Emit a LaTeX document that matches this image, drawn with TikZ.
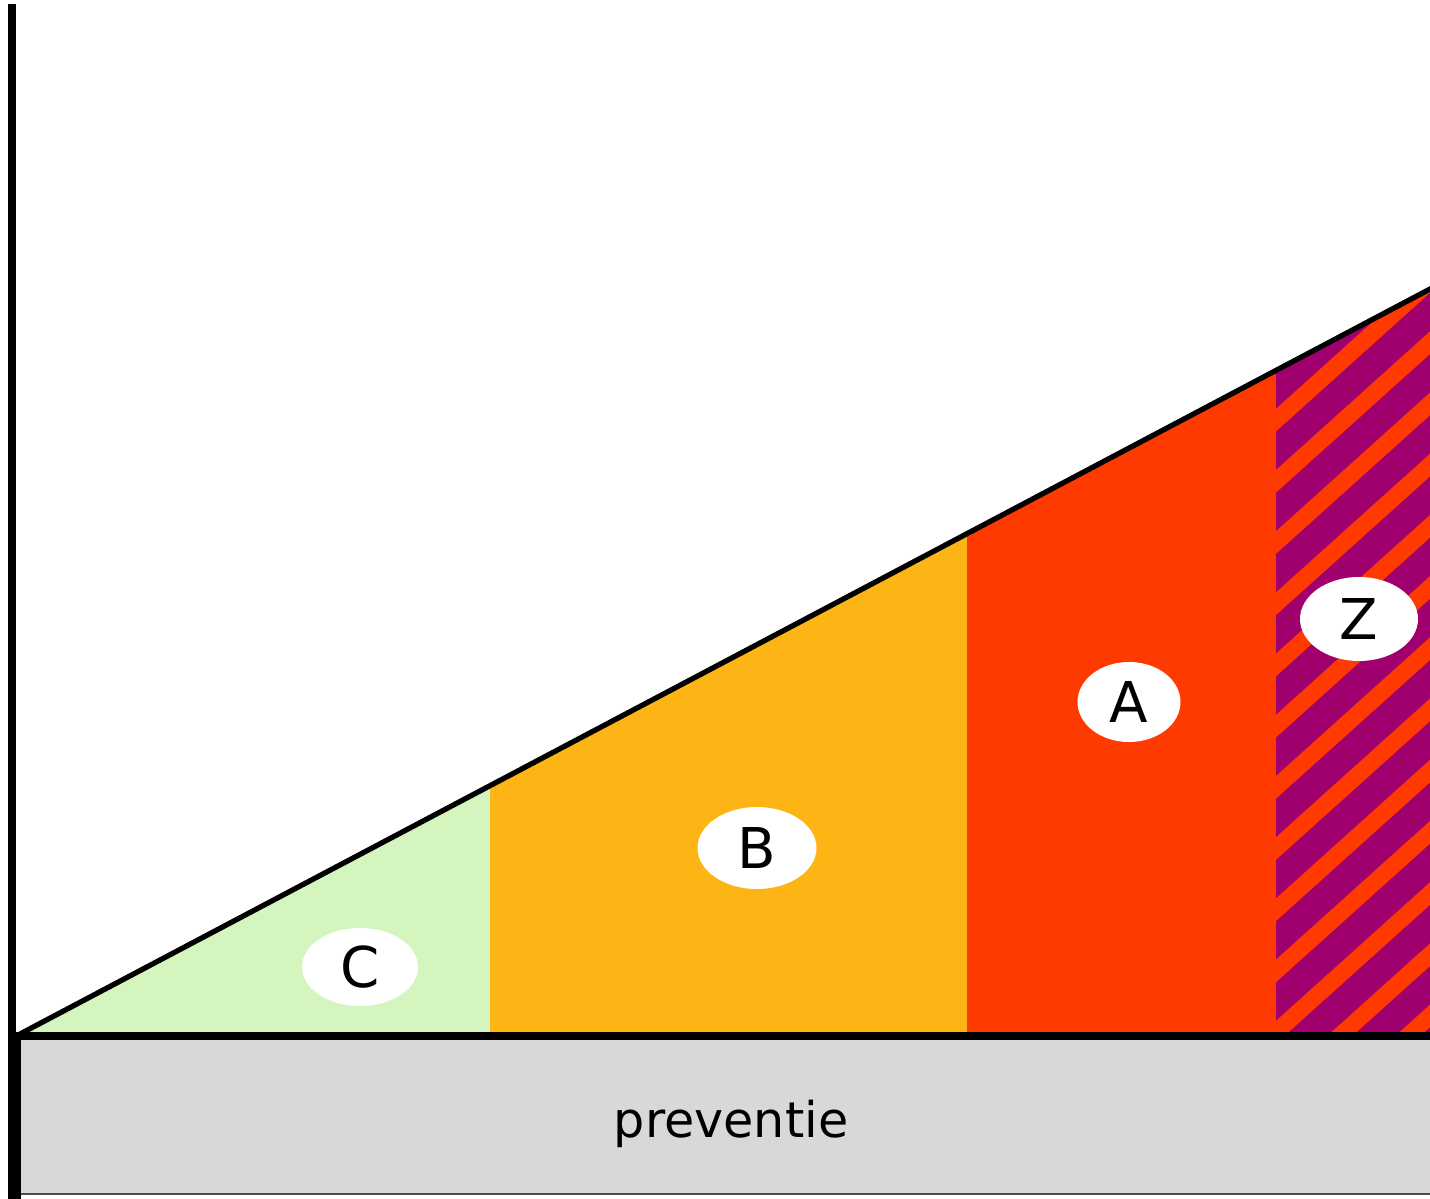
\documentclass[tikz,border=0pt]{standalone}
\usepackage{fontspec}
\setmainfont{DejaVu Sans}
\definecolor{cgreen}{RGB}{212,246,190}
\definecolor{corange}{RGB}{253,181,21}
\definecolor{cred}{RGB}{255,58,0}
\definecolor{cpurple}{RGB}{160,0,110}
\definecolor{cgray}{RGB}{216,216,216}
\tikzset{
  lbl/.style={ellipse, fill=white, inner sep=0pt, font=\fontsize{32}{36}\selectfont},
  stripe/.style={draw=cred, line width=9.6pt},
}
\usetikzlibrary{shapes.geometric}
\begin{document}
\begin{tikzpicture}[x=0.02cm,y=-0.02cm]
\useasboundingbox (0,0) rectangle (1430,1199);
\clip (0,0) rectangle (1430,1199);
\fill[white] (0,0) rectangle (1430,1199);
% coordinates
\coordinate (apex) at (20,1034);
\coordinate (top) at (1520,241.5);
% regions (line y = 1034 - 0.5284*(x-20))
\fill[cgreen] (20,1034) -- (490,785.7) -- (490,1034) -- cycle;
\fill[corange] (490,1034) -- (490,785.7) -- (967,533.6) -- (967,1034) -- cycle;
\fill[cred] (967,1034) -- (967,533.6) -- (1276,370.3) -- (1276,1034) -- cycle;
\begin{scope}
  \clip (1276,1034) -- (1276,370.3) -- (1520,241.5) -- (1520,1034) -- cycle;
  \fill[cpurple] (1276,200) rectangle (1520,1034);
  \foreach \k in {-14,...,4} {
    \draw[stripe] ({1313+68*\k},1060) -- ++(1100,-990);
  }
\end{scope}
% slope line
\draw[line width=3pt] (apex) -- (top);
% base box
\fill[cgray] (14,1036) rectangle (1500,1194);
\draw[line width=0.8pt, draw=black!70] (14,1194) -- (1500,1194);
\draw[line width=4pt] (14,1036) -- (1500,1036);
\draw[line width=4pt] (17,1036) -- (17,1199);
% axis
\draw[line width=4pt] (12,4) -- (12,1199);
% labels
\node[lbl, minimum width=116*0.02cm, minimum height=78*0.02cm] (C) at (360,967) {C};
\node[lbl, minimum width=119*0.02cm, minimum height=82*0.02cm] (B) at (757,848) {B};
\node[lbl, minimum width=103*0.02cm, minimum height=80*0.02cm] (A) at (1129,702) {A};
\node[lbl, minimum width=118*0.02cm, minimum height=84*0.02cm] (Z) at (1359,619) {Z};
\node[font=\fontsize{28}{32}\selectfont] (prev) at (731,1124) {preventie};
\end{tikzpicture}
\end{document}
